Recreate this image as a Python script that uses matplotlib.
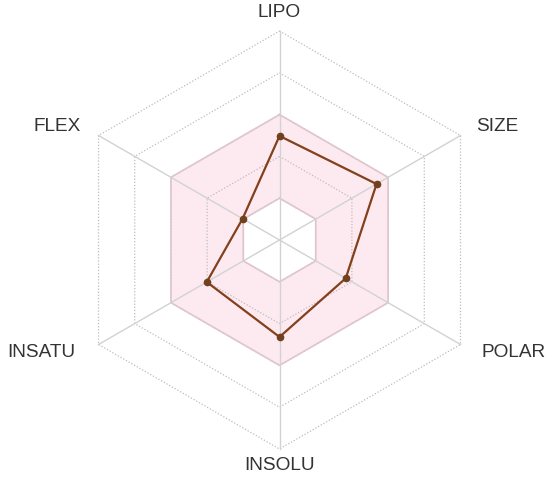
import numpy as np
import matplotlib
matplotlib.use("Agg")
import matplotlib.pyplot as plt
from matplotlib.path import Path
from matplotlib.patches import PathPatch

categories = ["LIPO", "SIZE", "POLAR", "INSOLU", "INSATU", "FLEX"]
angles_deg = [90, 30, -30, -90, -150, 150]
values = [2.49, 2.68, 1.83, 2.32, 2.01, 1.02]
levels = [1, 2, 3, 4, 5]
band_inner = 1
band_outer = 3
r_max = 5

ang = np.deg2rad(angles_deg)
cx, cy = np.cos(ang), np.sin(ang)

fig = plt.figure(figsize=(5.5, 4.79), dpi=100)
ax = fig.add_axes([0, 0, 1, 1])
ax.set_xlim(-6.687, 6.471)
ax.set_ylim(-5.718, 5.742)
ax.set_aspect('equal')
ax.axis('off')

# pink band (annulus between inner and outer hexagon)
outer = np.column_stack([cx * band_outer, cy * band_outer])
inner = np.column_stack([cx * band_inner, cy * band_inner])[::-1]
verts = np.vstack([outer, outer[:1], inner, inner[:1]])
codes = ([Path.MOVETO] + [Path.LINETO] * 5 + [Path.CLOSEPOLY]) * 2
band = PathPatch(Path(verts, codes), facecolor='#fdeaf0', edgecolor='none', zorder=1)
ax.add_patch(band)

# grid rings (dotted)
for lv in levels:
    xs = np.append(cx * lv, cx[0] * lv)
    ys = np.append(cy * lv, cy[0] * lv)
    ax.plot(xs, ys, color='#bdbdbd', lw=0.9, ls=(0, (1, 1.5)), zorder=2)

# band outlines
for lv in (band_inner, band_outer):
    xs = np.append(cx * lv, cx[0] * lv)
    ys = np.append(cy * lv, cy[0] * lv)
    ax.plot(xs, ys, color='#dfc6cc', lw=1.2, zorder=3)

# spokes
for a, b in zip(cx, cy):
    ax.plot([0, a * r_max], [0, b * r_max], color='#d2d2d2', lw=1.0, zorder=3)

# data polygon
v = np.array(values)
px = np.append(cx * v, cx[0] * v[0])
py = np.append(cy * v, cy[0] * v[0])
ax.plot(px, py, color='#83401c', lw=1.6, zorder=5)
ax.plot(cx * v, cy * v, 'o', color='#70401f', ms=4.5, zorder=6)

# labels
label_pos = {
    "LIPO": (0.0, 5.45, 'center'),
    "SIZE": (5.2, 2.71, 'center'),
    "POLAR": (5.6, -2.70, 'center'),
    "INSOLU": (0.0, -5.4, 'center'),
    "INSATU": (-5.70, -2.70, 'center'),
    "FLEX": (-5.32, 2.71, 'center'),
}
for c in categories:
    x, y, ha = label_pos[c]
    ax.text(x, y, c, ha=ha, va='center', fontsize=13.7, color='#333333',
            family='Liberation Sans')

fig.savefig('out.png', dpi=100)
